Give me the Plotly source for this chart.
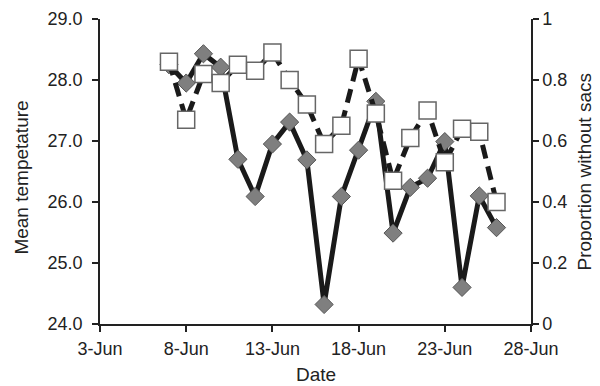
import plotly.graph_objects as go

dates = ["2010-06-%02d" % d for d in range(7, 27)]
temperature = [28.25, 27.95, 28.43, 28.21, 26.70, 26.09, 26.95, 27.31, 26.69, 24.32,
               26.09, 26.85, 27.65, 25.49, 26.24, 26.39, 26.99, 24.60, 26.10, 25.58]
proportion = [0.86, 0.67, 0.82, 0.79, 0.85, 0.83, 0.89, 0.80, 0.72, 0.59,
              0.65, 0.87, 0.69, 0.47, 0.61, 0.70, 0.53, 0.64, 0.63, 0.40]
x_ticks = ["2010-06-03", "2010-06-08", "2010-06-13", "2010-06-18", "2010-06-23", "2010-06-28"]
x_ticklabels = ["3-Jun", "8-Jun", "13-Jun", "18-Jun", "23-Jun", "28-Jun"]
left_ticks = [24, 25, 26, 27, 28, 29]
right_ticks = [0, 0.2, 0.4, 0.6, 0.8, 1]

fig = go.Figure()
fig.add_trace(go.Scatter(
    x=dates, y=temperature, mode="lines+markers", yaxis="y",
    line=dict(color="#1a1a1a", width=5),
    marker=dict(symbol="diamond", size=14, color="#7f7f7f",
                line=dict(color="#555555", width=1)),
    showlegend=False))
fig.add_trace(go.Scatter(
    x=dates, y=proportion, mode="lines+markers", yaxis="y2",
    line=dict(color="#1a1a1a", width=5, dash="14px,8px"),
    marker=dict(symbol="square", size=17, color="white",
                line=dict(color="#666666", width=1.5)),
    showlegend=False))

FAMILY = "Liberation Sans, Arial, sans-serif"
tick_font = dict(family=FAMILY, size=18, color="#222222")
title_font = dict(family=FAMILY, size=19, color="#222222")
axis_common = dict(showgrid=False, zeroline=False, showline=True, linecolor="#222222",
                   linewidth=1.5, ticks="outside", ticklen=6, tickcolor="#222222",
                   tickwidth=1.5, tickfont=tick_font)

# page body has an 8px margin, so the figure is shifted by 8px right/down
fig.update_layout(
    width=592, height=378,
    margin=dict(l=92, r=69, t=11, b=62, autoexpand=False),
    paper_bgcolor="white", plot_bgcolor="white",
    font=tick_font,
    xaxis=dict(axis_common, type="date", range=["2010-06-03", "2010-06-28"],
               tickvals=x_ticks, ticktext=x_ticklabels, ticklabelstandoff=2),
    yaxis=dict(axis_common, range=[24, 29], tickvals=left_ticks,
               ticktext=["%.1f" % v for v in left_ticks], ticklabelstandoff=6),
    yaxis2=dict(axis_common, range=[0, 1], tickvals=right_ticks,
                ticktext=[("%g" % v) for v in right_ticks], ticklabelstandoff=0,
                overlaying="y", side="right"),
    annotations=[
        dict(text="Date", xref="paper", yref="paper", x=0.5, y=-0.166,
             xanchor="center", yanchor="middle", showarrow=False, font=title_font,
             borderpad=0),
        dict(text="Mean tempetature", xref="paper", yref="paper", x=-0.181, y=0.48,
             xanchor="center", yanchor="middle", textangle=-90, showarrow=False,
             font=title_font),
        dict(text="Proportion without sacs", xref="paper", yref="paper", x=1.123, y=0.5,
             xanchor="center", yanchor="middle", textangle=-90, showarrow=False,
             font=title_font),
    ],
)

fig.write_html("out.html")
